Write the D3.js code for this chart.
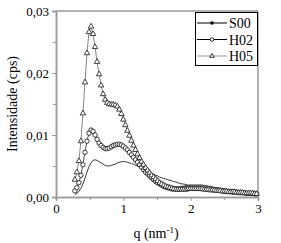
<!DOCTYPE html>
<html><head><meta charset="utf-8">
<script src="https://cdn.jsdelivr.net/npm/d3@7"></script>
<style>body{margin:0;background:#fff}svg{display:block}
svg text{font-family:"Liberation Serif","DejaVu Serif",Times,serif !important;}</style>
</head><body>
<svg id="c" width="281" height="243"></svg>
<script>
const q = [0.28,0.31,0.34,0.37,0.40,0.43,0.46,0.49,0.52,0.55,0.58,0.61,0.64,0.67,0.70,0.73,0.76,0.79,0.82,0.85,0.88,0.91,0.94,0.97,1.00,1.03,1.06,1.09,1.12,1.15,1.18,1.21,1.24,1.27,1.30,1.33,1.36,1.39,1.42,1.45,1.48,1.51,1.54,1.57,1.60,1.63,1.66,1.69,1.72,1.75,1.78,1.81,1.84,1.87,1.90,1.93,1.96,1.99,2.02,2.05,2.08,2.11,2.14,2.17,2.20,2.23,2.26,2.29,2.32,2.35,2.38,2.41,2.44,2.47,2.50,2.53,2.56,2.59,2.62,2.65,2.68,2.71,2.74,2.77,2.80,2.83,2.86,2.89,2.92,2.95,2.98];
const S00 = [.0004,.0006,.0009,.0014,.0021,.0030,.0040,.0049,.0055,.0059,.0060,.0059,.0057,.0055,.0053,.0051,.0050,.0050,.0051,.0052,.0053,.0055,.0056,.0057,.0057,.0057,.0056,.0055,.0054,.0053,.0051,.0050,.0048,.0047,.0045,.0043,.0042,.0040,.0038,.0037,.0035,.0034,.0032,.0031,.0030,.0029,.0028,.0027,.0026,.0025,.0024,.0023,.0022,.0021,.0021,.0020,.0019,.0019,.0018,.0018,.0017,.0017,.0016,.0016,.0015,.0015,.0014,.0014,.0014,.0013,.0013,.0012,.0012,.0012,.0011,.0011,.0011,.0010,.0010,.0010,.0009,.0009,.0009,.0008,.0008,.0008,.0008,.0007,.0007,.0007,.0006];
const H02 = [.0010,.0015,.0023,.0035,.0052,.0072,.0090,.0103,.0108,.0106,.0100,.0093,.0087,.0083,.0080,.0078,.0078,.0079,.0081,.0083,.0084,.0085,.0085,.0084,.0082,.0079,.0076,.0072,.0068,.0064,.0060,.0056,.0052,.0048,.0044,.0040,.0037,.0034,.0031,.0028,.0025,.0023,.0021,.0019,.0017,.0016,.0015,.0014,.0013,.0013,.0013,.0013,.0013,.0014,.0014,.0015,.0015,.0016,.0016,.0016,.0016,.0016,.0016,.0016,.0015,.0015,.0014,.0014,.0013,.0012,.0012,.0011,.0011,.0010,.0010,.0009,.0009,.0009,.0008,.0008,.0008,.0007,.0007,.0007,.0007,.0006,.0006,.0006,.0006,.0005,.0005];
const H05 = [.0028,.0040,.0058,.0090,.0135,.0185,.0232,.0266,.0275,.0263,.0242,.0218,.0198,.0180,.0166,.0157,.0152,.0150,.0149,.0149,.0148,.0146,.0141,.0134,.0125,.0116,.0107,.0099,.0091,.0083,.0076,.0069,.0063,.0057,.0052,.0047,.0043,.0039,.0035,.0032,.0029,.0026,.0023,.0021,.0019,.0017,.0016,.0015,.0014,.0013,.0012,.0012,.0012,.0012,.0012,.0012,.0013,.0013,.0013,.0013,.0013,.0013,.0013,.0013,.0012,.0012,.0012,.0011,.0011,.0011,.0010,.0010,.0010,.0009,.0009,.0009,.0008,.0008,.0008,.0008,.0007,.0007,.0007,.0007,.0006,.0006,.0006,.0006,.0006,.0005,.0005];
const seriesNames = ["S00","H02","H05"];
const xTicks = [0,1,2,3];
const xMinor = [0.5,1.5,2.5];
const yTicks = [0,0.01,0.02,0.03];
const yMinor = [0.005,0.015,0.025];

const svg = d3.select("#c");
const L=56,R=258,T=11,B=197;
const x = d3.scaleLinear().domain([0,3]).range([L,R]);
const y = d3.scaleLinear().domain([0,0.03]).range([B,T]);
const font = "Liberation Serif";
const gray = "#9a9a9a";

const fmtY = d => d3.format(".2f")(d).replace(".",",");
const gx = svg.append("g").attr("transform",`translate(0,${B})`)
  .call(d3.axisBottom(x).tickValues(xTicks).tickFormat(d3.format("d")).tickSize(4).tickPadding(3));
const gxm = svg.append("g").attr("transform",`translate(0,${B})`)
  .call(d3.axisBottom(x).tickValues(xMinor).tickFormat("").tickSize(3));
const gy = svg.append("g").attr("transform",`translate(${L},0)`)
  .call(d3.axisLeft(y).tickValues(yTicks).tickFormat(fmtY).tickSize(4).tickPadding(3));
const gym = svg.append("g").attr("transform",`translate(${L},0)`)
  .call(d3.axisLeft(y).tickValues(yMinor).tickFormat("").tickSize(3));
[gx,gxm,gy,gym].forEach(g=>{
  g.attr("font-family",font);
  g.selectAll("path.domain").attr("stroke",gray).attr("stroke-width",1.5);
  g.selectAll("line").attr("stroke",gray).attr("stroke-width",1);
  g.selectAll("text").attr("fill","#000").attr("font-size",13);
});
svg.append("line").attr("x1",L).attr("x2",R).attr("y1",T).attr("y2",T).attr("stroke",gray).attr("stroke-width",1.5);
svg.append("line").attr("x1",R).attr("x2",R).attr("y1",T).attr("y2",B).attr("stroke",gray).attr("stroke-width",1.5);

const line = vals => d3.line().x((d,i)=>x(q[i])).y(d=>y(d))(vals);
const plot = svg.append("g");
plot.append("path").attr("d",line(S00)).attr("fill","none").attr("stroke","#222").attr("stroke-width",0.9);
plot.append("path").attr("d",line(H02)).attr("fill","none").attr("stroke","#222").attr("stroke-width",0.8);
plot.selectAll("circle.h02").data(H02).join("circle").attr("class","h02")
  .attr("cx",(d,i)=>x(q[i])).attr("cy",d=>y(d)).attr("r",2.2)
  .attr("fill","#fff").attr("stroke","#222").attr("stroke-width",0.9);
plot.append("path").attr("d",line(H05)).attr("fill","none").attr("stroke","#666").attr("stroke-width",0.8);
const tri = d3.symbol().type(d3.symbolTriangle).size(13);
plot.selectAll("path.h05").data(H05).join("path").attr("class","h05")
  .attr("d",tri).attr("transform",(d,i)=>`translate(${x(q[i])},${y(d)})`)
  .attr("fill","#fff").attr("stroke","#222").attr("stroke-width",0.85);

const lg = svg.append("g").attr("font-family",font);
lg.append("rect").attr("x",195.5).attr("y",12.5).attr("width",62).attr("height",53)
  .attr("fill","#fff").attr("stroke","#000").attr("stroke-width",1);
const ly = [23,39.5,56];
seriesNames.forEach((n,i)=>{
  lg.append("line").attr("x1",197).attr("x2",227).attr("y1",ly[i]).attr("y2",ly[i])
    .attr("stroke", i===2 ? "#999" : "#000").attr("stroke-width",1);
  if(i===0) lg.append("rect").attr("x",210.5).attr("y",ly[i]-1.5).attr("width",3).attr("height",3).attr("fill","#000");
  if(i===1) lg.append("circle").attr("cx",212).attr("cy",ly[i]).attr("r",1.8).attr("fill","#fff").attr("stroke","#000").attr("stroke-width",0.8);
  if(i===2) lg.append("path").attr("d",d3.symbol().type(d3.symbolTriangle).size(9)).attr("transform",`translate(212,${ly[i]})`).attr("fill","#fff").attr("stroke","#000").attr("stroke-width",0.8);
  lg.append("text").attr("x",229).attr("y",ly[i]+5).text(n).attr("font-size",14).attr("fill","#000");
});

svg.append("text").attr("transform","translate(17,104) rotate(-90)").attr("text-anchor","middle")
  .attr("font-family",font).attr("font-size",14).text("Intensidade (cps)");
const xt = svg.append("text").attr("x",156).attr("y",238).attr("text-anchor","middle")
  .attr("font-family",font).attr("font-size",14);
xt.append("tspan").text("q (nm");
xt.append("tspan").attr("dy",-5).attr("font-size",9).text("-1");
xt.append("tspan").attr("dy",5).text(")");
</script>
</body></html>
